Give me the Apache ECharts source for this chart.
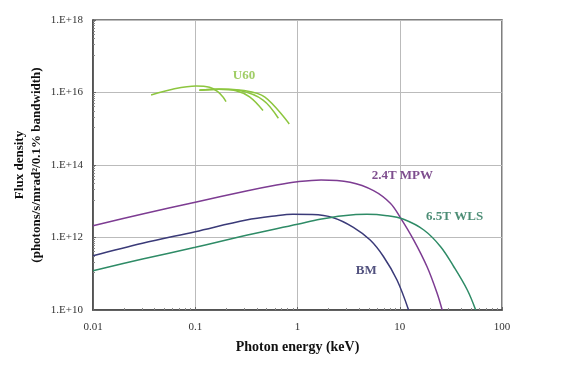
<!DOCTYPE html>
<html><head><meta charset="utf-8">
<script src="https://cdn.jsdelivr.net/npm/echarts@6/dist/echarts.min.js"></script>
<style>html,body{margin:0;padding:0;background:#fff}#c{width:561px;height:384px}</style>
</head><body><div id="c"></div>
<script>
// Photon energy (keV) / flux density (photons/s/mrad^2/0.1% bw)
const mpwE = [0.01, 0.0305, 0.1, 0.316, 0.624, 1.0, 1.7, 3.27, 5.54, 8.09, 10.1, 13.7, 18.5, 23.2, 26.0];
const mpwF = [2.1e12, 4.45e12, 9.35e12, 1.92e13, 2.81e13, 3.46e13, 3.88e13, 3.33e13, 1.96e13, 8.8e12, 3.6e12, 8.5e11, 1.56e11, 2.9e10, 1.0e10];
const bmE = [0.01, 0.0305, 0.1, 0.316, 0.624, 0.9, 1.4, 2.24, 3.52, 5.14, 6.95, 9.4, 12.2];
const bmF = [3.15e11, 6.92e11, 1.45e12, 3.04e12, 3.99e12, 4.35e12, 4.3e12, 3.52e12, 1.91e12, 8.5e11, 2.95e11, 6.7e10, 1.0e10];
const wlsE = [0.01, 0.0305, 0.1, 0.316, 1.0, 1.66, 2.81, 4.77, 7.5, 10.9, 17.2, 25.1, 33.8, 45.8, 55.3];
const wlsF = [1.21e11, 2.55e11, 5.37e11, 1.15e12, 2.31e12, 3.18e12, 3.99e12, 4.36e12, 3.99e12, 3.18e12, 1.61e12, 5.57e11, 1.56e11, 3.56e10, 1.0e10];
const u60E1 = [0.037, 0.06, 0.102, 0.138, 0.166, 0.186, 0.2];
const u60F1 = [8.5e15, 1.23e16, 1.51e16, 1.39e16, 1.05e16, 7.6e15, 5.6e15];
const u60E2 = [0.11, 0.17, 0.25, 0.34, 0.46];
const u60F2 = [1.15e16, 1.23e16, 1.12e16, 7.6e15, 3.2e15];
const u60E3 = [0.11, 0.17, 0.27, 0.46, 0.65];
const u60F3 = [1.15e16, 1.23e16, 1.13e16, 6.2e15, 1.95e15];
const u60E4 = [0.11, 0.17, 0.3, 0.48, 0.83];
const u60F4 = [1.15e16, 1.23e16, 1.13e16, 7.5e15, 1.35e15];
const yTickLabels = ['1.E+10', '1.E+12', '1.E+14', '1.E+16', '1.E+18'];
const seriesLabels = [
  {text: 'U60', e: 0.30, f: 3.0e16, color: '#88c040'},
  {text: '2.4T MPW', e: 10.6, f: 5.0e13, color: '#5e2272'},
  {text: '6.5T WLS', e: 34.4, f: 3.7e12, color: '#1f7052'},
  {text: 'BM', e: 4.7, f: 1.2e11, color: '#26265e'}
];

const zip = (a, b) => a.map((v, i) => [v, b[i]]);
const FONT = 'Liberation Serif';
const lineS = (data, color) => ({
  type: 'line', data, smooth: 0.35, showSymbol: false, symbol: 'none',
  lineStyle: {color, width: 1.5}, z: 3
});
const chart = echarts.init(document.getElementById('c'));
chart.setOption({
  animation: false,
  grid: {left: 93, right: 59, top: 20, bottom: 74, show: true, borderColor: '#555', borderWidth: 1.5,
    outerBoundsMode: 'none', containLabel: false},
  xAxis: {
    type: 'log', logBase: 10, min: 0.01, max: 100,
    name: 'Photon energy (keV)', nameLocation: 'middle', nameGap: 30, nameMoveOverlap: false,
    nameTextStyle: {fontFamily: FONT, fontWeight: 'bold', fontSize: 14, color: '#111'},
    axisLine: {lineStyle: {color: '#444', width: 1.5}},
    axisTick: {show: true, inside: true, length: 3, lineStyle: {color: '#666'}},
    minorTick: {show: true, splitNumber: 9, length: 2, lineStyle: {color: '#888'}},
    axisLabel: {fontFamily: FONT, fontSize: 11, color: '#333', margin: 12,
      formatter: v => String(v)},
    splitLine: {show: true, lineStyle: {color: '#bbb', width: 1}}
  },
  yAxis: {
    type: 'log', logBase: 10, min: 1e10, max: 1e18, interval: 2,
    name: 'Flux density\n(photons/s/mrad\u00b2/0.1% bandwidth)', nameLocation: 'middle', nameGap: 48,
    nameRotate: 90, nameMoveOverlap: false,
    nameTextStyle: {fontFamily: FONT, fontWeight: 'bold', fontSize: 13, color: '#111', lineHeight: 17},
    axisLine: {lineStyle: {color: '#444', width: 1.5}},
    axisTick: {show: true, inside: true, length: 3, lineStyle: {color: '#666'}},
    minorTick: {show: true, splitNumber: 10, length: 2, lineStyle: {color: '#888'}},
    axisLabel: {fontFamily: FONT, fontSize: 11, color: '#333', margin: 10,
      formatter: v => yTickLabels[Math.round((Math.log10(v) - 10) / 2)] || ''},
    splitLine: {show: true, lineStyle: {color: '#bbb', width: 1}}
  },
  series: [
    lineS(zip(u60E1, u60F1), '#8dc63f'),
    lineS(zip(u60E2, u60F2), '#8dc63f'),
    lineS(zip(u60E3, u60F3), '#8dc63f'),
    lineS(zip(u60E4, u60F4), '#8dc63f'),
    lineS(zip(mpwE, mpwF), '#7d3c92'),
    lineS(zip(bmE, bmF), '#3a3a78'),
    lineS(zip(wlsE, wlsF), '#2e8b66'),
    {
      type: 'scatter', symbolSize: 0, z: 5, silent: true,
      data: seriesLabels.map(l => ({
        value: [l.e, l.f],
        label: {show: true, position: 'inside', formatter: l.text, color: l.color,
          fontFamily: FONT, fontWeight: 'bold', fontSize: 13}
      }))
    }
  ]
});
</script></body></html>
